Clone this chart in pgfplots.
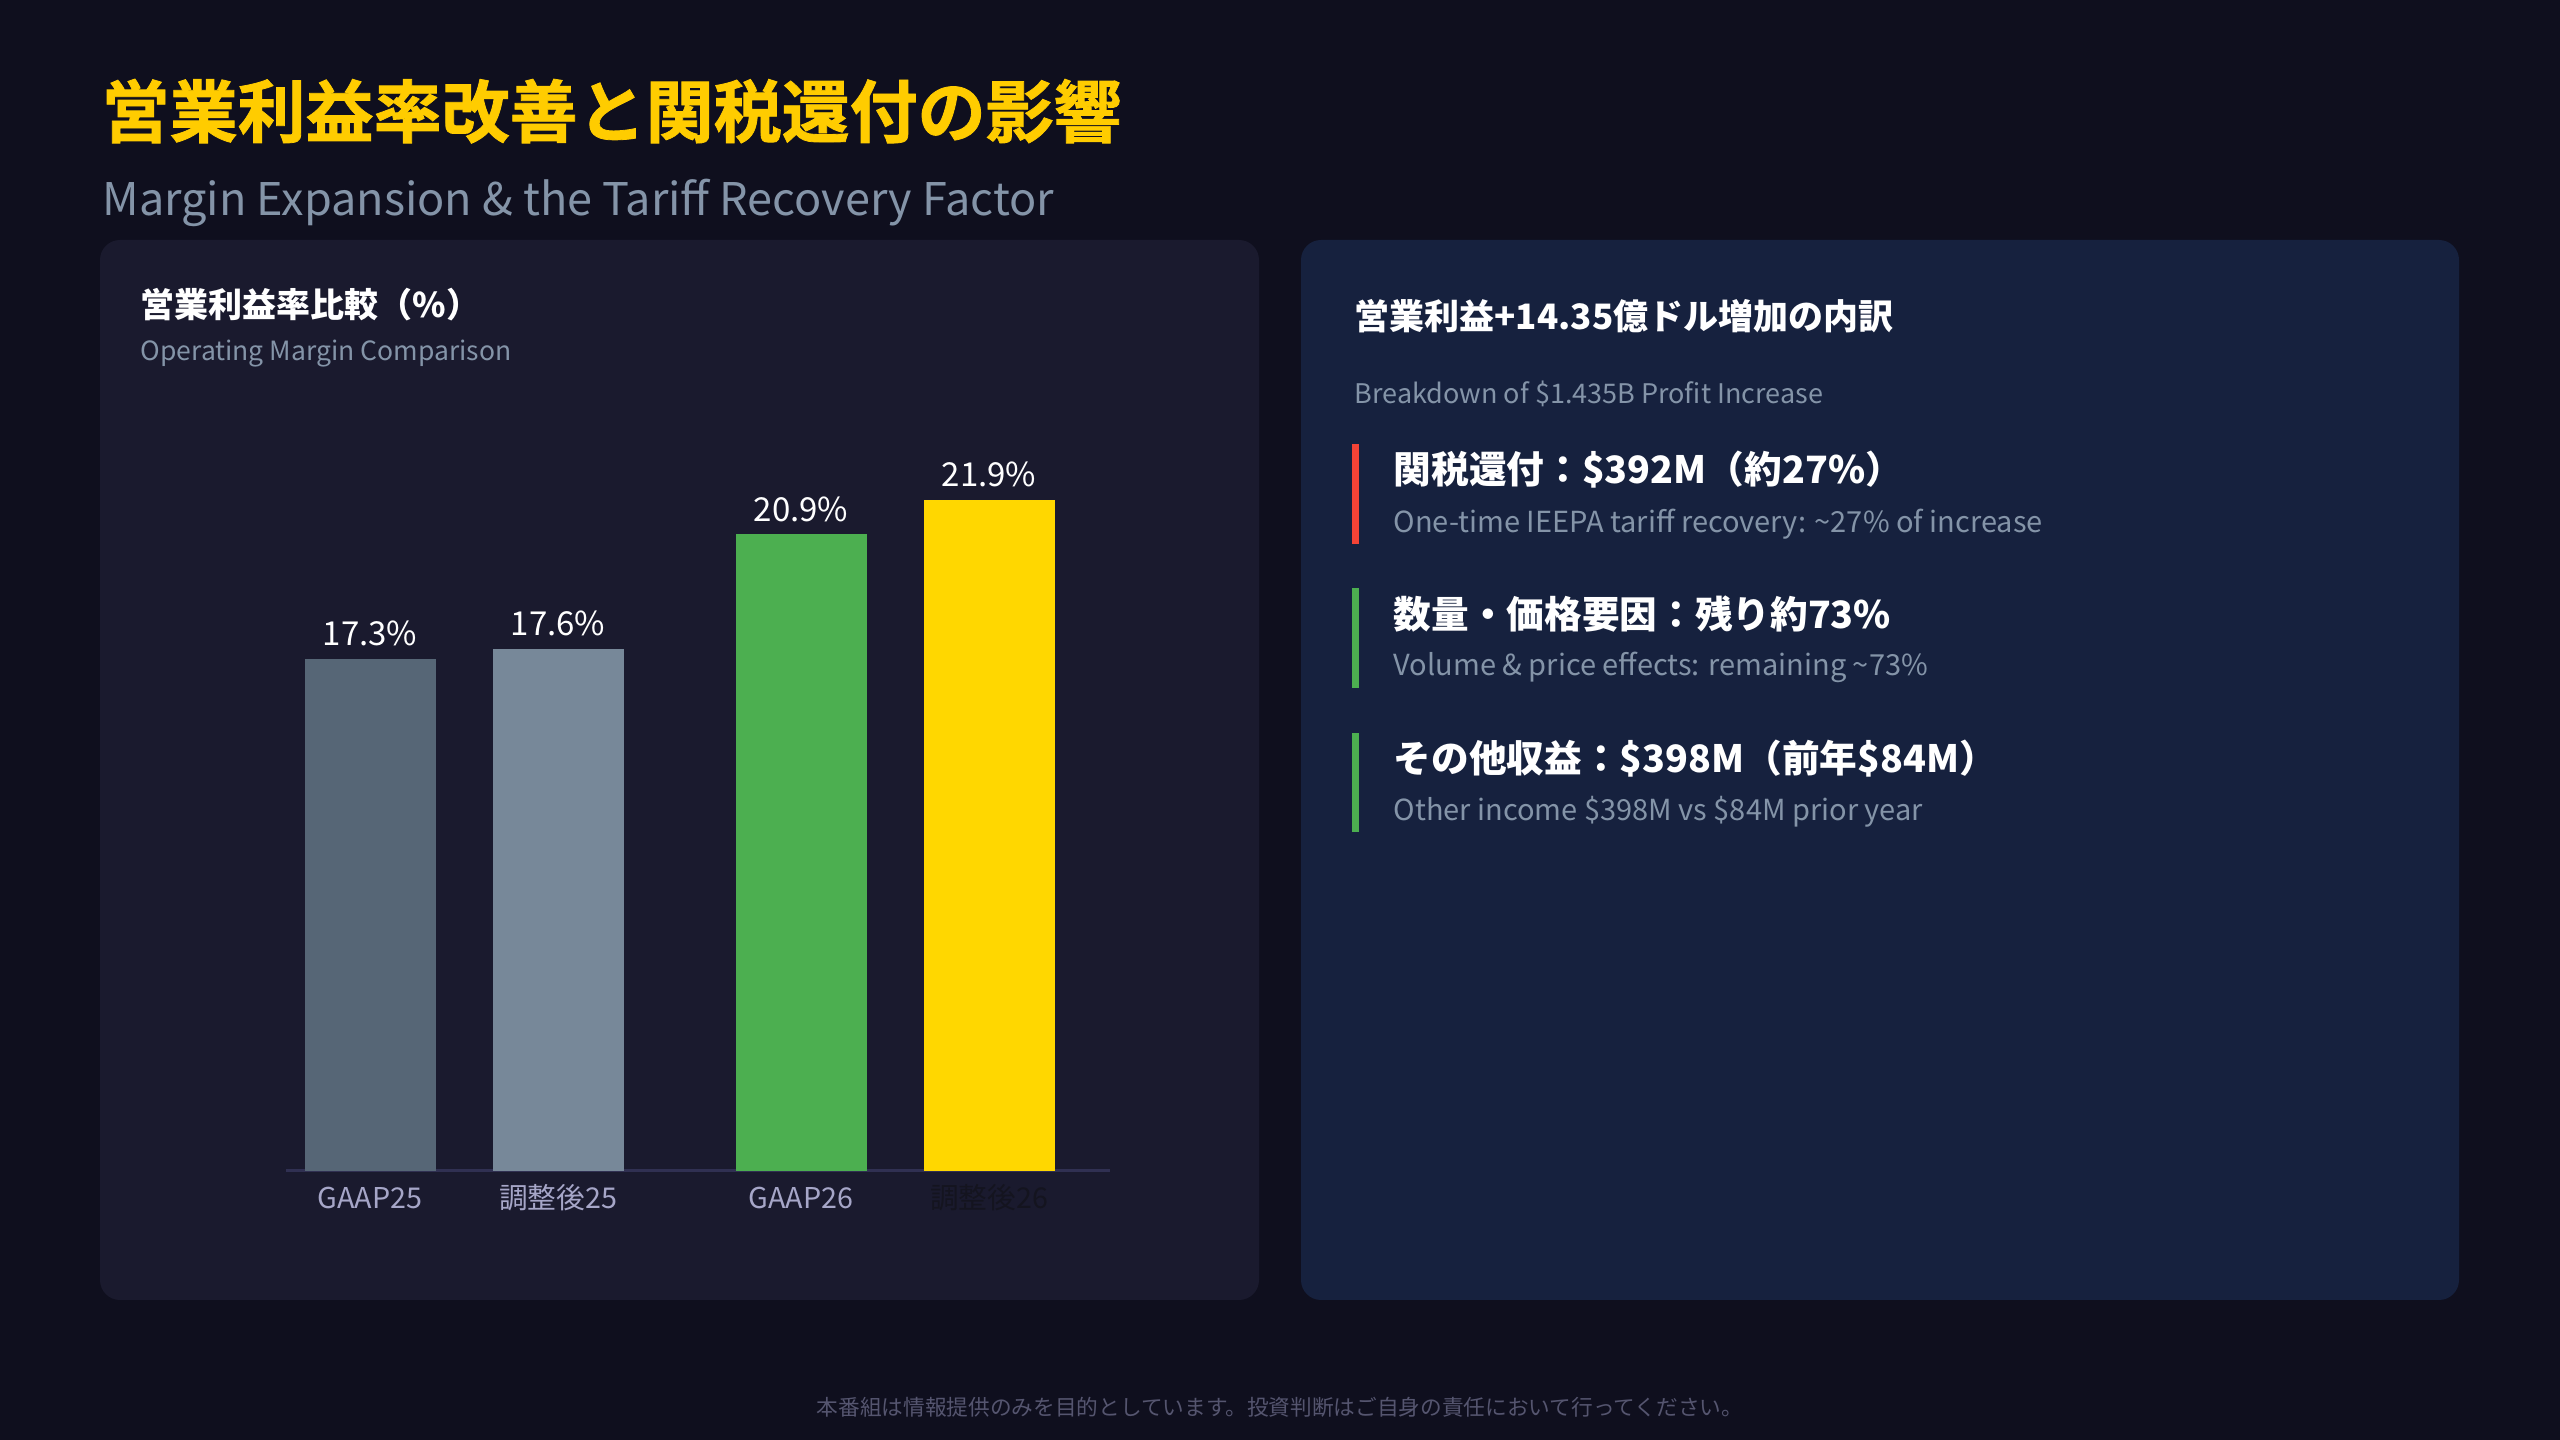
\documentclass[border=0pt]{standalone}
\usepackage{fontspec}
\setmainfont{Noto Sans CJK JP}
\newfontfamily\heavy{Noto Sans CJK JP}[UprightFont=* Bold, FakeBold=1.2]
\usepackage{xcolor}
\usepackage{pgfplots}
\pgfplotsset{compat=1.18}
\definecolor{bg}{HTML}{0F0F1E}
\definecolor{panelL}{HTML}{1A1A2E}
\definecolor{panelR}{HTML}{16213E}
\definecolor{titleY}{HTML}{FFCC00}
\definecolor{subG}{HTML}{8494A8}
\definecolor{barA}{HTML}{566676}
\definecolor{barB}{HTML}{778899}
\definecolor{barC}{HTML}{4CAF50}
\definecolor{barD}{HTML}{FFD700}
\definecolor{axiscol}{HTML}{303052}
\definecolor{tickcol}{HTML}{A6A6C8}
\definecolor{tickdark}{HTML}{14141F}
\definecolor{accR}{HTML}{F44336}
\definecolor{accG}{HTML}{4CAF50}
\definecolor{footcol}{HTML}{55556F}
\newcommand{\fs}[1]{\fontsize{#1}{#1}\selectfont}
\begin{document}
\begin{tikzpicture}[x=0.3pt,y=0.3pt]
\useasboundingbox (0,0) rectangle (2560,1440);
\fill[bg] (0,0) rectangle (2560,1440);
\fill[panelL, rounded corners=6pt] (100,140) rectangle (1259,1200);
\fill[panelR, rounded corners=6pt] (1301,140) rectangle (2459,1200);
% titles
\node[anchor=base west, inner sep=0, text=titleY, font=\heavy\fs{20.4pt}] at (101,1303) {営業利益率改善と関税還付の影響};
\node[anchor=base west, inner sep=0, text=subG, font=\fs{13.5pt}] at (102,1224) {Margin Expansion \& the Tariff Recovery Factor};
% left panel headings
\node[anchor=base west, inner sep=0, text=white, font=\bfseries\fs{10.2pt}] at (140,1122) {営業利益率比較（\%）};
\node[anchor=base west, inner sep=0, text=subG, font=\fs{7.95pt}] at (140,1079) {Operating Margin Comparison};
% right panel
\node[anchor=base west, inner sep=0, text=white, font=\bfseries\fs{10.5pt}] at (1354,1110) {営業利益+14.35億ドル増加の内訳};
\node[anchor=base west, inner sep=0, text=subG, font=\fs{8.1pt}] at (1354,1036) {Breakdown of \$1.435B Profit Increase};
\fill[accR] (1352,896) rectangle (1359,996);
\node[anchor=base west, inner sep=0, text=white, font=\bfseries\fs{11.3pt}] at (1393,956) {関税還付：\$392M（約27\%）};
\node[anchor=base west, inner sep=0, text=subG, font=\fs{8.7pt}] at (1393,907) {One-time IEEPA tariff recovery: \textasciitilde27\% of increase};
\fill[accG] (1352,752) rectangle (1359,852);
\node[anchor=base west, inner sep=0, text=white, font=\bfseries\fs{11.3pt}] at (1393,811) {数量・価格要因：残り約73\%};
\node[anchor=base west, inner sep=0, text=subG, font=\fs{8.7pt}] at (1393,764) {Volume \& price effects: remaining \textasciitilde73\%};
\fill[accG] (1352,608) rectangle (1359,707);
\node[anchor=base west, inner sep=0, text=white, font=\bfseries\fs{11.3pt}] at (1393,667) {その他収益：\$398M（前年\$84M）};
\node[anchor=base west, inner sep=0, text=subG, font=\fs{8.7pt}] at (1393,619) {Other income \$398M vs \$84M prior year};
% footer
\node[anchor=base, inner sep=0, text=footcol, font=\fs{6.5pt}] at (1280,24) {本番組は情報提供のみを目的としています。投資判断はご自身の責任において行ってください。};
% chart
\begin{axis}[
  at={(85.8pt,80.7pt)}, anchor=south west,
  scale only axis, width=247.2pt, height=233.55pt,
  xmin=-0.447, xmax=3.936, ymin=2.5, ymax=25,
  axis x line*=bottom, axis y line=none,
  x axis line style={draw=axiscol, line width=0.9pt, -},
  ytick=\empty,
  xtick={0,1,2.293,3.293},
  xticklabels={GAAP25,調整後25,GAAP26,\textcolor{tickdark}{調整後26}},
  major tick length=0pt,
  xtick style={draw=none},
  xticklabel style={anchor=base, yshift=-11.4pt, inner sep=0pt, text=tickcol, font=\fs{8.6pt}},
  /pgf/number format/assume math mode=true,
  nodes near coords={\pgfmathprintnumber[fixed,fixed zerofill,precision=1]{\pgfplotspointmeta}\%},
  every node near coord/.append style={anchor=base, yshift=3.9pt, inner sep=0pt, text=white, font=\fs{9.9pt}},
]
\addplot[ybar, bar width=39.3pt, bar shift=0pt, fill=barA, draw=none] coordinates {(0,17.3)};
\addplot[ybar, bar width=39.3pt, bar shift=0pt, fill=barB, draw=none] coordinates {(1,17.6)};
\addplot[ybar, bar width=39.3pt, bar shift=0pt, fill=barC, draw=none] coordinates {(2.293,20.9)};
\addplot[ybar, bar width=39.3pt, bar shift=0pt, fill=barD, draw=none] coordinates {(3.293,21.9)};
\end{axis}
\end{tikzpicture}
\end{document}
